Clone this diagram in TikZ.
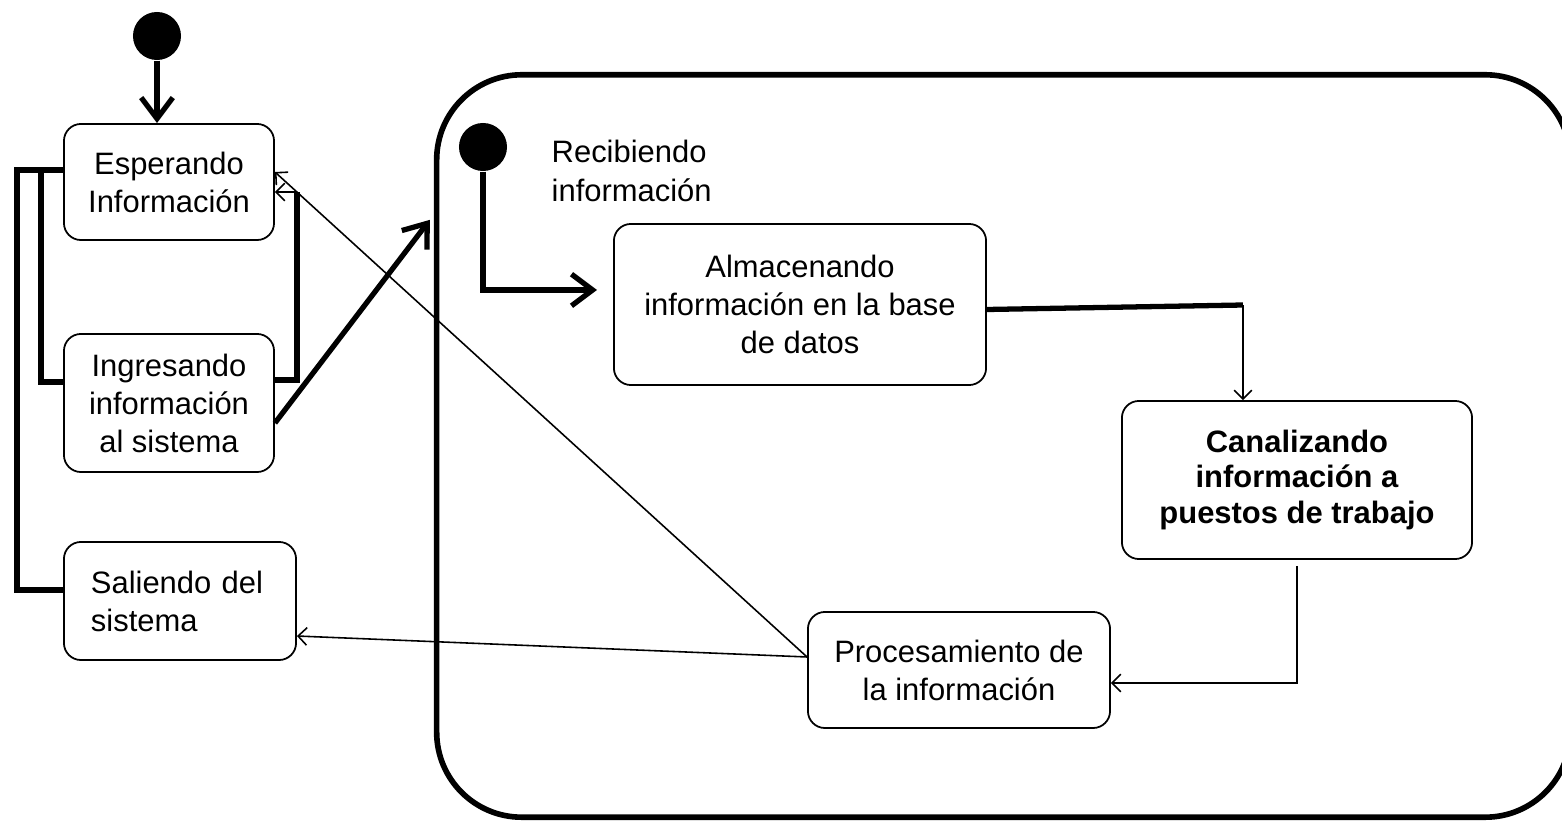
\documentclass[tikz,border=0pt]{standalone}
\usepackage{fontspec}
\setmainfont{Liberation Sans}
\usetikzlibrary{arrows.meta}
\begin{document}
\begin{tikzpicture}[x=0.01cm,y=-0.01cm,
  state/.style={draw, line width=0.5pt, rounded corners=0.17cm, align=center, inner sep=0pt,
    font=\fontsize{8.8}{10.8}\selectfont},
  initdot/.style={circle, fill=black, minimum size=0.48cm, inner sep=0pt},
  superst/.style={draw, line width=1.6pt, rounded corners=0.85cm, inner sep=0pt},
  thinarr/.style={line width=0.45pt, -{Straight Barb[length=2.5pt,width=5pt]}},
  thickarr/.style={line width=1.5pt, -{Straight Barb[length=6pt,width=9pt]}},
  thickln/.style={line width=1.5pt},
  brk/.style={line width=1.7pt}
]
\useasboundingbox (0,0) rectangle (1562,822);

% superstate
\node[superst, minimum width=11.33cm, minimum height=7.42cm] (sup) at (1003.5,446) {};

% states
\node[state, minimum width=2.1cm, minimum height=1.16cm] (esp) at (169,182) {Esperando\\Información};
\node[state, minimum width=2.1cm, minimum height=1.38cm] (ing) at (169,403) {Ingresando\\información\\al sistema};
\node[state, minimum width=2.32cm, minimum height=1.18cm, text width=1.78cm, inner xsep=0.27cm, align=left] (sal) at (180,601) {Saliendo del\\sistema};
\node[state, minimum width=3.72cm, minimum height=1.61cm] (alm) at (800,304.5) {Almacenando\\información en la base\\de datos};
\node[state, minimum width=3.5cm, minimum height=1.58cm, font=\bfseries\fontsize{8.8}{10.2}\selectfont] (can) at (1297,480) {Canalizando\\información a\\puestos de trabajo};
\node[state, minimum width=3.02cm, minimum height=1.16cm] (proc) at (959,670) {Procesamiento de\\la información};

% label of superstate (base = baseline of last line)
\node[anchor=base west, align=left, inner sep=0pt, font=\fontsize{8.8}{11.2}\selectfont] (lbl) at (551,202) {Recibiendo\\información};

% initial states
\node[initdot] (i1) at (157,36) {};
\node[initdot] (i2) at (483,147) {};

\draw[thickarr] (i1) -- (i1 |- esp.north);
\draw[thickarr] (i2) |- ([xshift=-0.16cm,yshift=0.145cm]alm.west);

% left brackets
\draw[brk] ([yshift=0.12cm]esp.west) -- ++(-46,0) |- ([yshift=0.11cm]sal.west);
\draw[brk] ([yshift=0.12cm,xshift=-0.22cm]esp.west) |- ([yshift=0.21cm]ing.west);

% right bracket and loop back
\coordinate (rbtop) at ([xshift=0.22cm,yshift=-0.1cm]esp.east);
\draw[brk] ([yshift=0.23cm]ing.east) -| (rbtop);
\draw[thinarr] (rbtop) -- ([yshift=-0.1cm]esp.east);

% into superstate
\draw[thickarr] ([yshift=-0.2cm]ing.east) -- ([yshift=2.26cm,xshift=-0.04cm]sup.west);

% Procesamiento back to left
\draw[thinarr] ([yshift=0.13cm]proc.west) -- ([yshift=0.1cm]esp.east);
\draw[thinarr] ([yshift=0.13cm]proc.west) -- ([yshift=-0.35cm]sal.east);

% Almacenando -> Canalizando
\coordinate (acb) at ([xshift=-0.54cm,yshift=0.95cm]can.north);
\draw[thickln] ([yshift=-0.05cm]alm.east) -- (acb);
\draw[thinarr] (acb) -- ([xshift=-0.54cm]can.north);

% Canalizando -> Procesamiento
\draw[thinarr] ([yshift=-0.06cm]can.south) |- ([yshift=-0.13cm]proc.east);
\end{tikzpicture}
\end{document}
